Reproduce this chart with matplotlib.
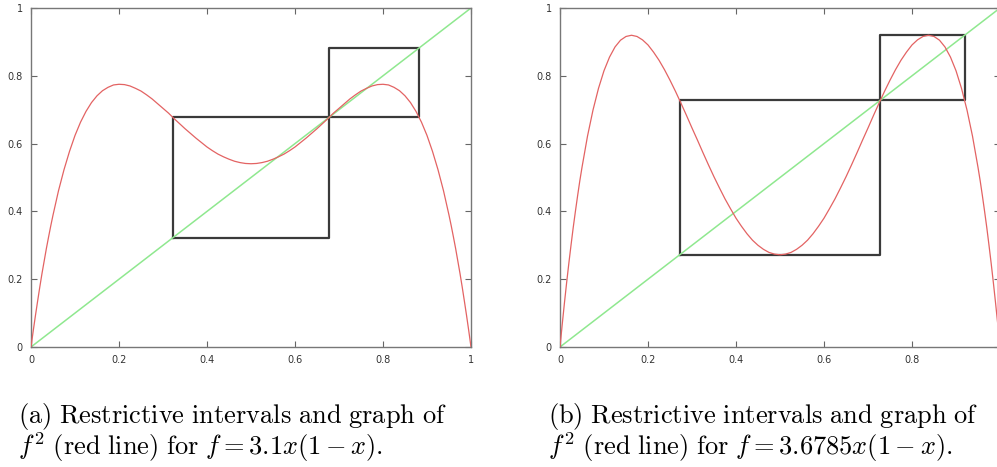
import numpy as np
import matplotlib
matplotlib.use("Agg")
import matplotlib.pyplot as plt

plt.rcParams['mathtext.fontset'] = 'cm'

xs = [0, 0.005, 0.01, 0.015, 0.02, 0.025, 0.03, 0.035, 0.04, 0.045, 0.05,
      0.0625, 0.075, 0.0875, 0.1, 0.1125, 0.125, 0.1375, 0.15, 0.1625, 0.175, 0.1875,
      0.2, 0.2125, 0.225, 0.2375, 0.25, 0.2625, 0.275, 0.2875, 0.3, 0.3125, 0.325,
      0.3375, 0.35, 0.3625, 0.375, 0.3875, 0.4, 0.4125, 0.425, 0.4375, 0.45, 0.4625,
      0.475, 0.4875, 0.5,
      0.5125, 0.525, 0.5375, 0.55, 0.5625, 0.575, 0.5875, 0.6, 0.6125, 0.625, 0.6375,
      0.65, 0.6625, 0.675, 0.6875, 0.7, 0.7125, 0.725, 0.7375, 0.75, 0.7625, 0.775,
      0.7875, 0.8, 0.8125, 0.825, 0.8375, 0.85, 0.8625, 0.875, 0.8875, 0.9, 0.9125,
      0.925, 0.9375, 0.95, 0.955, 0.96, 0.965, 0.97, 0.975, 0.98, 0.985, 0.99, 0.995, 1]

# f^2 for f = 3.1x(1-x)
ya = [0, 0.047, 0.092, 0.135, 0.177, 0.217, 0.254, 0.291, 0.325, 0.358, 0.389,
      0.461, 0.523, 0.577, 0.624, 0.663, 0.695, 0.721, 0.741, 0.756, 0.766, 0.773,
      0.775, 0.774, 0.770, 0.763, 0.755, 0.744, 0.732, 0.718, 0.704, 0.690, 0.674,
      0.659, 0.644, 0.630, 0.616, 0.603, 0.590, 0.579, 0.569, 0.561, 0.554, 0.548,
      0.544, 0.5414, 0.5406,
      0.5414, 0.544, 0.548, 0.554, 0.561, 0.569, 0.579, 0.590, 0.603, 0.616, 0.630,
      0.644, 0.659, 0.674, 0.690, 0.704, 0.718, 0.732, 0.744, 0.755, 0.763, 0.770,
      0.774, 0.775, 0.773, 0.766, 0.756, 0.741, 0.721, 0.695, 0.663, 0.624, 0.577,
      0.523, 0.461, 0.389, 0.358, 0.325, 0.291, 0.254, 0.217, 0.177, 0.135, 0.092, 0.047, 0]

# f^2 for f = 3.6785x(1-x)
yb = [0, 0.066, 0.129, 0.189, 0.246, 0.300, 0.352, 0.400, 0.446, 0.490, 0.530,
      0.622, 0.699, 0.763, 0.815, 0.855, 0.885, 0.905, 0.916, 0.9196, 0.916, 0.906,
      0.891, 0.870, 0.846, 0.818, 0.787, 0.754, 0.719, 0.683, 0.646, 0.610, 0.573,
      0.537, 0.502, 0.469, 0.437, 0.408, 0.380, 0.356, 0.334, 0.315, 0.300, 0.288,
      0.279, 0.274, 0.272,
      0.274, 0.279, 0.288, 0.300, 0.315, 0.334, 0.356, 0.380, 0.408, 0.437, 0.469,
      0.502, 0.537, 0.573, 0.610, 0.646, 0.683, 0.719, 0.754, 0.787, 0.818, 0.846,
      0.870, 0.891, 0.906, 0.916, 0.9196, 0.916, 0.905, 0.885, 0.855, 0.815, 0.763,
      0.699, 0.622, 0.530, 0.490, 0.446, 0.400, 0.352, 0.300, 0.246, 0.189, 0.129, 0.066, 0]

# restrictive intervals (x0, x1) -> squares [x0,x1]x[x0,x1]
boxes_a = [(0.3226, 0.6774), (0.6774, 0.882)]
boxes_b = [(0.2718, 0.7282), (0.7282, 0.9196)]

ticks = [0, 0.2, 0.4, 0.6, 0.8, 1]
ticklabels = ['0', '0.2', '0.4', '0.6', '0.8', '1']

caption_a = (r"$\mathrm{(a)\ Restrictive\ intervals\ and\ graph\ of}$" "\n"
             r"$f^2\ \mathrm{(red\ line)\ for}\ f = 3.1x(1-x).$")
caption_b = (r"$\mathrm{(b)\ Restrictive\ intervals\ and\ graph\ of}$" "\n"
             r"$f^2\ \mathrm{(red\ line)\ for}\ f = 3.6785x(1-x).$")

fig = plt.figure(figsize=(9.97, 4.67), dpi=100)
ax1 = fig.add_axes([31/997, 120/467, 440/997, 339/467])
ax2 = fig.add_axes([560/997, 120/467, 440/997, 339/467])


def panel(ax, y, boxes):
    ax.plot([0, 1], [0, 1], color='#8fe88f', lw=1.1, zorder=2)
    ax.plot(xs, y, color='#e36363', lw=0.9, zorder=3)
    for a, b in boxes:
        ax.plot([a, b, b, a, a], [a, a, b, b, a], color='#3a3a3a', lw=1.6, zorder=1)
    ax.set_xlim(0, 1)
    ax.set_ylim(0, 1)
    ax.set_xticks(ticks)
    ax.set_xticklabels(ticklabels)
    ax.set_yticks(ticks)
    ax.set_yticklabels(ticklabels)
    ax.tick_params(direction='in', length=4, width=0.8, color='#666666',
                   top=True, right=True, labelsize=7, labelcolor='#333333', pad=6)
    for s in ax.spines.values():
        s.set_color('#777777')
        s.set_linewidth(1.0)


panel(ax1, ya, boxes_a)
panel(ax2, yb, boxes_b)

for x0, cap in [(18/997, caption_a), (548/997, caption_b)]:
    fig.text(x0, 1 - 401/467, cap, fontsize=19, va='top', ha='left', linespacing=0.95)

fig.savefig('out.png', dpi=100)
